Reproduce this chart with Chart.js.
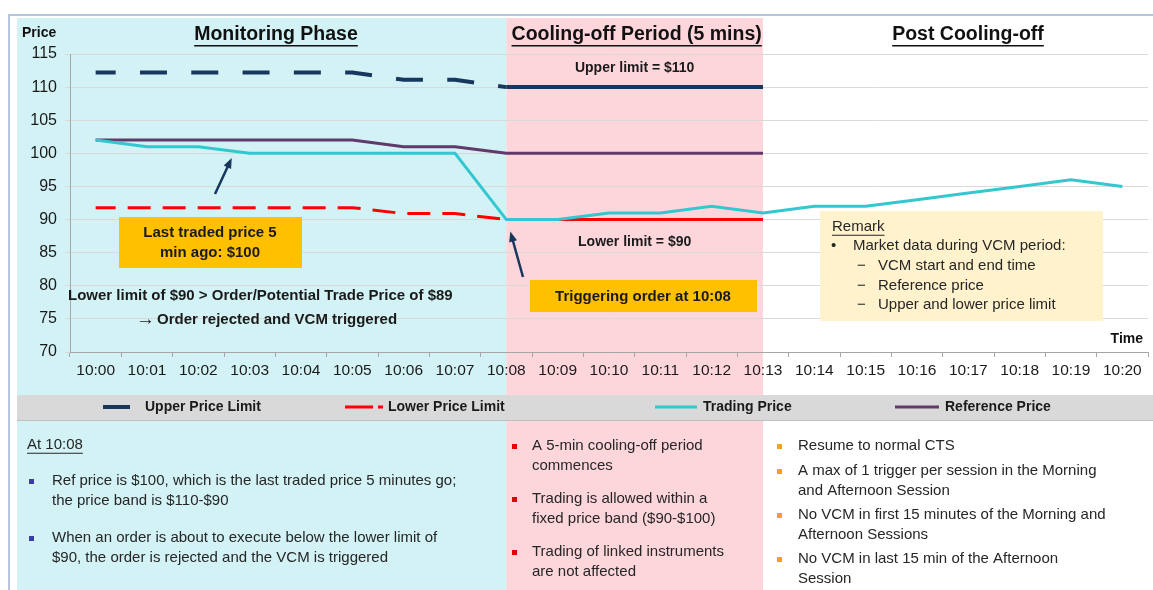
<!DOCTYPE html>
<html>
<head>
<meta charset="utf-8">
<script src="https://cdn.jsdelivr.net/npm/chart.js@4.4.1/dist/chart.umd.min.js"></script>
<style>
  html, body { margin: 0; padding: 0; background: #fff; }
  canvas { display: block; }
</style>
</head>
<body>
<canvas id="vcmChart" width="1153" height="590"></canvas>
<script>
// data
const times = ["10:00", "10:01", "10:02", "10:03", "10:04", "10:05", "10:06", "10:07", "10:08", "10:09", "10:10",
               "10:11", "10:12", "10:13", "10:14", "10:15", "10:16", "10:17", "10:18", "10:19", "10:20"];
const upperLimit = [112.2, 112.2, 112.2, 112.2, 112.2, 112.2, 111.1, 111.1, 110, 110, 110, 110, 110, 110,
                    null, null, null, null, null, null, null];
const lowerLimit = [91.8, 91.8, 91.8, 91.8, 91.8, 91.8, 90.9, 90.9, 90, 90, 90, 90, 90, 90,
                    null, null, null, null, null, null, null];
const tradingPrice = [102, 101, 101, 100, 100, 100, 100, 100, 90, 90, 91, 91, 92, 91, 92, 92, 93, 94, 95, 96, 95];
const referencePrice = [102, 102, 102, 102, 102, 102, 101, 101, 100, 100, 100, 100, 100, 100,
                        null, null, null, null, null, null, null];
const triggerIndex = 8;   // 10:08
const coolEndIndex = 13;  // 10:13

const FONT = '"Liberation Sans", Arial, sans-serif';

function txt(ctx, s, x, y, size, opts) {
    opts = opts || {};
    ctx.save();
    ctx.font = (opts.bold ? "bold " : "") + size + "px " + FONT;
    ctx.fillStyle = opts.color || "#1a1a1a";
    ctx.textAlign = opts.align || "left";
    ctx.textBaseline = "middle";
    ctx.fillText(s, x, y);
    if (opts.underline) {
        const w = ctx.measureText(s).width;
        let x0 = x;
        if (ctx.textAlign === "center") x0 = x - w / 2;
        if (ctx.textAlign === "right") x0 = x - w;
        ctx.strokeStyle = ctx.fillStyle;
        ctx.lineWidth = size > 16 ? 1.6 : 1;
        ctx.beginPath();
        ctx.moveTo(x0, y + size * 0.55);
        ctx.lineTo(x0 + w, y + size * 0.55);
        ctx.stroke();
    }
    ctx.restore();
}

function arrow(ctx, x1, y1, x2, y2, color) {
    ctx.save();
    ctx.strokeStyle = color;
    ctx.fillStyle = color;
    ctx.lineWidth = 2.5;
    const a = Math.atan2(y2 - y1, x2 - x1);
    ctx.beginPath();
    ctx.moveTo(x1, y1);
    ctx.lineTo(x2 - 6 * Math.cos(a), y2 - 6 * Math.sin(a));
    ctx.stroke();
    ctx.beginPath();
    ctx.moveTo(x2, y2);
    ctx.lineTo(x2 - 11 * Math.cos(a - 0.38), y2 - 11 * Math.sin(a - 0.38));
    ctx.lineTo(x2 - 11 * Math.cos(a + 0.38), y2 - 11 * Math.sin(a + 0.38));
    ctx.closePath();
    ctx.fill();
    ctx.restore();
}

function bullet(ctx, x, y, color) {
    ctx.fillStyle = color;
    ctx.fillRect(x - 2, y - 2, 5, 5);
}

const backdrop = {
    id: "backdrop",
    beforeDraw(chart) {
        const ctx = chart.ctx;
        const xs = chart.scales.x;
        const xTrig = xs.getPixelForValue(triggerIndex);
        const xEnd = xs.getPixelForValue(coolEndIndex);
        ctx.save();
        ctx.fillStyle = "#fff";
        ctx.fillRect(0, 0, chart.width, chart.height);
        ctx.fillStyle = "#d3f2f5";
        ctx.fillRect(17, 18, xTrig - 17, chart.height - 18);
        ctx.fillStyle = "#fdd6dc";
        ctx.fillRect(xTrig, 18, xEnd - xTrig, chart.height - 18);
        ctx.strokeStyle = "#9db3d9";
        ctx.lineWidth = 1.5;
        ctx.beginPath();
        ctx.moveTo(9, chart.height);
        ctx.lineTo(9, 15);
        ctx.lineTo(chart.width, 15);
        ctx.stroke();
        ctx.restore();
    }
};

// legend sample positions in the grey band
const legendLineX = [[103, 130], [345, 383], [655, 697], [895, 939]];
const legendTextX = [145, 388, 703, 945];

const overlay = {
    id: "overlay",
    afterDraw(chart) {
        const ctx = chart.ctx;
        const xs = chart.scales.x;
        const ys = chart.scales.y;
        const xTrig = xs.getPixelForValue(triggerIndex);
        const xEnd = xs.getPixelForValue(coolEndIndex);

        // section headings
        txt(ctx, "Monitoring Phase", 276, 35, 19.5, { bold: true, align: "center", underline: true, color: "#111" });
        txt(ctx, "Cooling-off Period (5 mins)", (xTrig + xEnd) / 2 + 2, 35, 19.5, { bold: true, align: "center", underline: true, color: "#111" });
        txt(ctx, "Post Cooling-off", 968, 35, 19.5, { bold: true, align: "center", underline: true, color: "#111" });
        txt(ctx, "Price", 22, 33, 14, { bold: true, color: "#111" });
        txt(ctx, "Time", 1143, 339, 14, { bold: true, align: "right", color: "#111" });

        // limits in cooling-off period
        txt(ctx, "Upper limit = $110", (xTrig + xEnd) / 2, ys.getPixelForValue(110) - 19, 14, { bold: true, align: "center" });
        txt(ctx, "Lower limit = $90", (xTrig + xEnd) / 2, ys.getPixelForValue(90) + 23, 14, { bold: true, align: "center" });

        // last traded price note
        ctx.fillStyle = "#ffc000";
        ctx.fillRect(119, 217, 183, 51);
        txt(ctx, "Last traded price 5", 210, 233, 15, { bold: true, align: "center" });
        txt(ctx, "min ago: $100", 210, 253, 15, { bold: true, align: "center" });
        arrow(ctx, 215, 194, xs.getPixelForValue(2.65), ys.getPixelForValue(99.3), "#17375e");

        // trigger note
        ctx.fillStyle = "#ffc000";
        ctx.fillRect(530, 280, 227, 32);
        txt(ctx, "Triggering order at 10:08", 643, 297, 15, { bold: true, align: "center" });
        arrow(ctx, 523, 277, xTrig + 4, ys.getPixelForValue(88.2), "#17375e");

        txt(ctx, "Lower limit of $90 > Order/Potential Trade Price of $89", 68, 296, 15, { bold: true });
        txt(ctx, "\u2192", 136, 320, 19, { bold: true });
        txt(ctx, "Order rejected and VCM triggered", 157, 320, 15, { bold: true });

        // remark box
        ctx.fillStyle = "#fff2cc";
        ctx.fillRect(820, 211, 283, 110);
        txt(ctx, "Remark", 832, 227, 15, { underline: true, color: "#262626" });
        txt(ctx, "\u2022", 831, 246, 15, { color: "#262626" });
        txt(ctx, "Market data during VCM period:", 853, 246, 15, { color: "#262626" });
        ["VCM start and end time", "Reference price", "Upper and lower price limit"].forEach((s, i) => {
            txt(ctx, "\u2212", 857, 266 + i * 19.5, 15, { color: "#262626" });
            txt(ctx, s, 878, 266 + i * 19.5, 15, { color: "#262626" });
        });

        // legend band
        ctx.fillStyle = "#d9d9d9";
        ctx.fillRect(17, 395, chart.width - 17, 26);
        ctx.fillStyle = "#bfbfbf";
        ctx.fillRect(17, 420, chart.width - 17, 1);
        chart.data.datasets.forEach((ds, i) => {
            ctx.save();
            ctx.strokeStyle = ds.borderColor;
            ctx.lineWidth = ds.borderWidth;
            ctx.setLineDash(ds.legendDash || []);
            ctx.beginPath();
            ctx.moveTo(legendLineX[i][0], 407);
            ctx.lineTo(legendLineX[i][1], 407);
            ctx.stroke();
            ctx.restore();
            txt(ctx, ds.label, legendTextX[i], 407, 14, { bold: true, color: "#1a1a1a" });
        });

        // bottom panels
        const tc = "#262626";
        txt(ctx, "At 10:08", 27, 445, 15, { underline: true, color: tc });
        bullet(ctx, 31, 481, "#3c3ca6");
        txt(ctx, "Ref price is $100, which is the last traded price 5 minutes go;", 52, 481, 15, { color: tc });
        txt(ctx, "the price band is $110-$90", 52, 501, 15, { color: tc });
        bullet(ctx, 31, 538, "#3c3ca6");
        txt(ctx, "When an order is about to execute below the lower limit of", 52, 538, 15, { color: tc });
        txt(ctx, "$90, the order is rejected and the VCM is triggered", 52, 558, 15, { color: tc });

        const pinkNotes = [["A 5-min cooling-off period", "commences"],
                           ["Trading is allowed within a", "fixed price band ($90-$100)"],
                           ["Trading of linked instruments", "are not affected"]];
        pinkNotes.forEach((lines, i) => {
            const y = 446 + i * 53;
            bullet(ctx, 514, y, "#e00000");
            lines.forEach((s, j) => txt(ctx, s, 532, y + j * 20, 15, { color: tc }));
        });

        const postNotes = [["Resume to normal CTS"],
                           ["A max of 1 trigger per session in the Morning", "and Afternoon Session"],
                           ["No VCM in first 15 minutes of the Morning and", "Afternoon Sessions"],
                           ["No VCM in last 15 min of the Afternoon", "Session"]];
        const postY = [446, 471, 515, 559];
        postNotes.forEach((lines, i) => {
            bullet(ctx, 779, postY[i], "#f0a030");
            lines.forEach((s, j) => txt(ctx, s, 798, postY[i] + j * 20, 15, { color: tc }));
        });
    }
};

const dashedBefore = (dash) => (c) => c.p0DataIndex < triggerIndex ? dash : [];

new Chart(document.getElementById("vcmChart"), {
    type: "line",
    data: {
        labels: times,
        datasets: [
            {
                label: "Upper Price Limit",
                data: upperLimit,
                borderColor: "#17375e",
                borderWidth: 4,
                legendDash: [],
                segment: { borderDash: dashedBefore([27, 24.3]), borderDashOffset: 7 },
                order: 2
            },
            {
                label: "Lower Price Limit",
                data: lowerLimit,
                borderColor: "#ff0000",
                borderWidth: 3,
                legendDash: [28, 5, 6, 100],
                segment: { borderDash: dashedBefore([23, 12]), borderDashOffset: 3 },
                order: 3
            },
            {
                label: "Trading Price",
                data: tradingPrice,
                borderColor: "#33c7cf",
                borderWidth: 3,
                order: 0
            },
            {
                label: "Reference Price",
                data: referencePrice,
                borderColor: "#5f3a6b",
                borderWidth: 3,
                order: 1
            }
        ]
    },
    options: {
        responsive: false,
        animation: false,
        devicePixelRatio: 1,
        layout: { padding: { top: 54, right: 5, left: 0, bottom: 0 } },
        elements: { point: { radius: 0 }, line: { tension: 0, borderCapStyle: "butt" } },
        plugins: { legend: { display: false }, tooltip: { enabled: false } },
        scales: {
            x: {
                offset: true,
                grid: { offset: true, drawOnChartArea: false, tickLength: 5, color: "#a6a6a6" },
                border: { color: "#a6a6a6" },
                ticks: { font: { family: FONT, size: 15.5 }, color: "#1a1a1a", padding: 4, maxRotation: 0, autoSkip: false },
                afterFit: (s) => { s.height = 590 - 352; }
            },
            y: {
                min: 70,
                max: 115,
                grid: { color: "#d9d9d9", tickLength: 5 },
                border: { color: "#a6a6a6" },
                ticks: { stepSize: 5, font: { family: FONT, size: 16 }, color: "#1a1a1a", padding: 8 },
                afterFit: (s) => { s.width = 70; }
            }
        }
    },
    plugins: [backdrop, overlay]
});
</script>
</body>
</html>
